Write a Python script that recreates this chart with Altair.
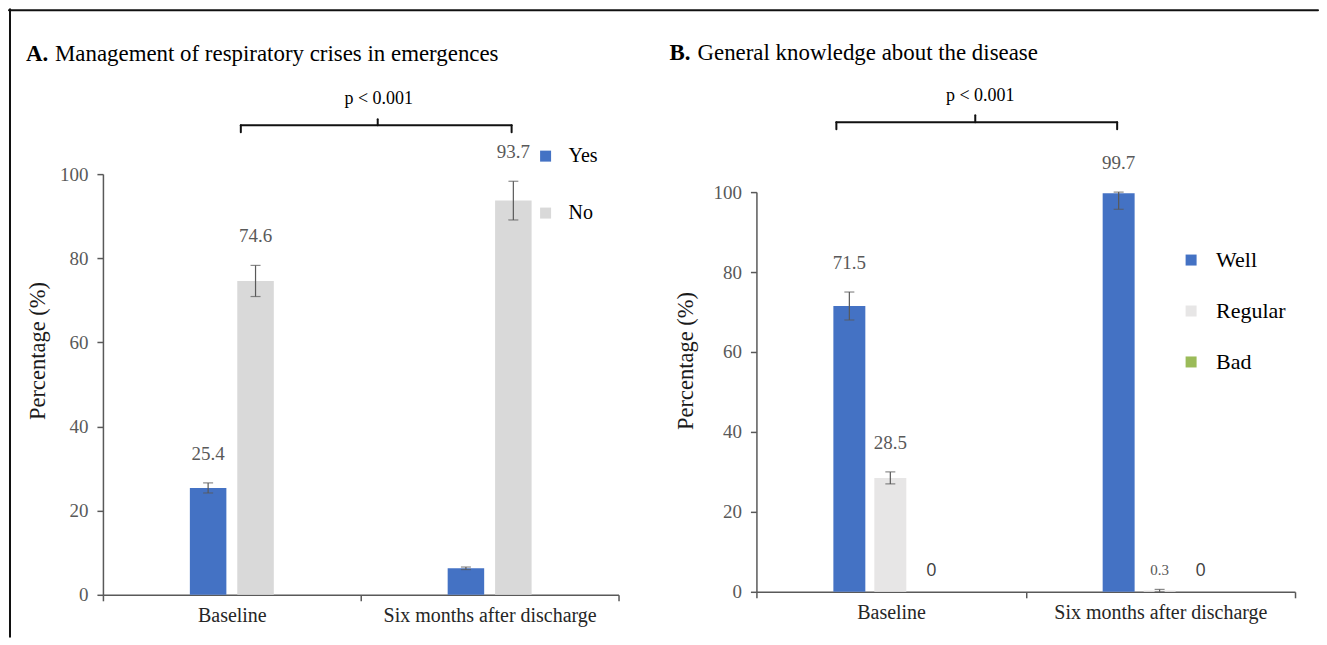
import altair as alt
import pandas as pd

W, H = 1310, 628

groups = ["Baseline", "Six months after discharge"]

# Panel A
a_series = ["Yes", "No"]
a_colors = ["#4472C4", "#D9D9D9"]
a_yes = [25.4, 6.3]
a_no = [74.6, 93.7]
a_yes_err = [1.2, 0.3]
a_no_err = [3.7, 4.6]
a_yes_labels = ["25.4", ""]
a_no_labels = ["74.6", "93.7"]

# Panel B
b_series = ["Well", "Regular", "Bad"]
b_colors = ["#4472C4", "#E7E6E6", "#9BBB59"]
b_well = [71.5, 99.7]
b_regular = [28.5, 0.3]
b_bad = [0.0, 0.0]
b_well_err_low = [3.5, 4.0]
b_well_err_high = [3.5, 0.3]
b_regular_err = [1.5, 0.3]
b_bad_err = [0.0, 0.0]
b_well_labels = ["71.5", "99.7"]
b_regular_labels = ["28.5", ""]
b_small_labels = ["", "0.3"]
b_bad_labels = ["0", "0"]

SERIF = "Liberation Serif"
SANS = "Open Sans"
GREY = "#595959"


def rows(series, values, errs_lo, errs_hi, labels, small, sans):
    out = []
    for s, vals, elo, ehi, lab, sm, sa in zip(series, values, errs_lo, errs_hi, labels, small, sans):
        for g, v, lo, hi, l, m, n in zip(groups, vals, elo, ehi, lab, sm, sa):
            out.append(dict(group=g, series=s, value=v, lo=v - lo, hi=v + hi,
                            label=l, small=m, sans=n))
    return pd.DataFrame(out)


empty2 = ["", ""]
df_a = rows(a_series, [a_yes, a_no], [a_yes_err, a_no_err], [a_yes_err, a_no_err],
            [a_yes_labels, a_no_labels], [empty2, empty2], [empty2, empty2])
df_b = rows(b_series, [b_well, b_regular, b_bad],
            [b_well_err_low, b_regular_err, b_bad_err],
            [b_well_err_high, b_regular_err, b_bad_err],
            [b_well_labels, b_regular_labels, empty2],
            [empty2, b_small_labels, empty2],
            [empty2, empty2, b_bad_labels])


def panel(df, series, colors, xrange, yrange, xoff_range, xoff_pad_in,
          yoffset, xoffset, legend_x, legend_y, legend_font, legend_row, legend_off):
    x = alt.X("group:N",
              scale=alt.Scale(domain=groups, range=xrange, paddingInner=0, paddingOuter=0),
              axis=alt.Axis(orient="bottom", offset=xoffset, title=None, tickBand="extent",
                            labelAngle=0, labelFont=SERIF, labelFontSize=20, labelLimit=0,
                            labelColor="#262626", domainColor=GREY, tickColor=GREY,
                            tickSize=6, labelPadding=5, grid=False, domainWidth=1.5,
                            tickWidth=1.5))
    xo = alt.XOffset("series:N",
                     scale=alt.Scale(domain=series, range=xoff_range,
                                     paddingInner=xoff_pad_in, paddingOuter=0))
    yscale = alt.Scale(domain=[0, 100], range=yrange, nice=False, zero=True)
    y = alt.Y("value:Q", scale=yscale,
              axis=alt.Axis(orient="left", offset=yoffset, values=[0, 20, 40, 60, 80, 100],
                            title=None, grid=False, labelFont=SERIF, labelFontSize=19,
                            labelColor=GREY, domainColor=GREY, tickColor=GREY, tickSize=6,
                            labelPadding=9, domainWidth=1.5, tickWidth=1.5))
    base = alt.Chart(df)
    bars = base.mark_bar().encode(
        x=x, xOffset=xo, y=y,
        color=alt.Color("series:N", scale=alt.Scale(domain=series, range=colors),
                        legend=alt.Legend(orient="none", legendX=legend_x, legendY=legend_y,
                                          title=None, symbolType="square", symbolSize=121,
                                          symbolStrokeWidth=0, labelFont=SERIF,
                                          labelFontSize=legend_font, labelColor="#000000",
                                          rowPadding=legend_row, labelOffset=legend_off,
                                          padding=0)))
    errs = base.transform_filter("datum.hi > datum.lo")
    rule = errs.mark_rule(color=GREY, strokeWidth=1.2).encode(
        x=x, xOffset=xo, y=alt.Y("lo:Q", scale=yscale), y2="hi:Q")
    cap_hi = errs.mark_tick(color=GREY, thickness=1.2, size=10).encode(
        x=x, xOffset=xo, y=alt.Y("hi:Q", scale=yscale))
    cap_lo = errs.mark_tick(color=GREY, thickness=1.2, size=10).encode(
        x=x, xOffset=xo, y=alt.Y("lo:Q", scale=yscale))
    lab = base.mark_text(font=SERIF, fontSize=19, color=GREY, dy=-29, baseline="middle").encode(
        x=x, xOffset=xo, y=alt.Y("hi:Q", scale=yscale), text="label:N")
    small = base.mark_text(font=SERIF, fontSize=15, color=GREY, dy=-21, baseline="middle").encode(
        x=x, xOffset=xo, y=alt.Y("value:Q", scale=yscale), text="small:N")
    sans = base.mark_text(font=SANS, fontSize=18, color="#404040", dy=-21, baseline="middle").encode(
        x=x, xOffset=xo, y=alt.Y("value:Q", scale=yscale), text="sans:N")
    return alt.layer(bars, rule, cap_hi, cap_lo, lab, small, sans)


pa = panel(df_a, a_series, a_colors, [94, 610], [586, 165], [87, 171], 0.23, -94, -42,
           527, 137, 20, 37, 13)
pb = panel(df_b, b_series, b_colors, [748, 1287], [583, 183], [77, 191], 0.22, -748, -45,
           1172, 240, 22, 29, 14)

# Annotations (titles, significance brackets, frame)
one = alt.Data(values=[{}])


def txt(s, x, y, size, weight="normal", font=SERIF, angle=0, align="left", color="#000000"):
    return alt.Chart(one).mark_text(text=s, font=font, fontSize=size, fontWeight=weight,
                                    angle=angle, align=align, baseline="middle",
                                    color=color).encode(x=alt.value(x), y=alt.value(y))


seg_x = [232, 232, 503, 369, 828, 828, 1109, 967, 1, 0]
seg_x2 = [503, 232, 503, 369, 1109, 828, 1109, 967, 1, W]
seg_y = [116, 116, 116, 110, 113, 113, 113, 106, 0, 1]
seg_y2 = [116, 123, 123, 116, 113, 120, 120, 113, H, 1]
seg_df = pd.DataFrame(dict(x=seg_x, x2=seg_x2, y=seg_y, y2=seg_y2))
segs = alt.Chart(seg_df).mark_rule(color="#111111", strokeWidth=2, strokeCap="round").encode(
    x=alt.X("x:Q", scale=None), x2="x2:Q", y=alt.Y("y:Q", scale=None), y2="y2:Q")

ann = alt.layer(
    txt("A.", 17, 45, 22.9, "bold"),
    txt("Management of respiratory crises in emergences", 46, 45, 22.9),
    txt("B.", 661, 44, 22.9, "bold"),
    txt("General knowledge about the disease", 689, 44, 22.9),
    txt("p < 0.001", 370, 90, 18, align="center"),
    txt("p < 0.001", 972, 87, 18, align="center"),
    txt("Percentage (%)", 29, 342, 22.5, angle=270, align="center", color="#1a1a1a"),
    txt("Percentage (%)", 678, 352, 22.5, angle=270, align="center", color="#1a1a1a"),
    segs,
)

chart = alt.layer(pa, pb, ann).resolve_scale(
    x="independent", y="independent", color="independent", xOffset="independent"
).properties(width=W, height=H, padding=0, background="white").configure_view(strokeWidth=0)

chart.save("out.html", embed_options={"renderer": "svg", "actions": False})
